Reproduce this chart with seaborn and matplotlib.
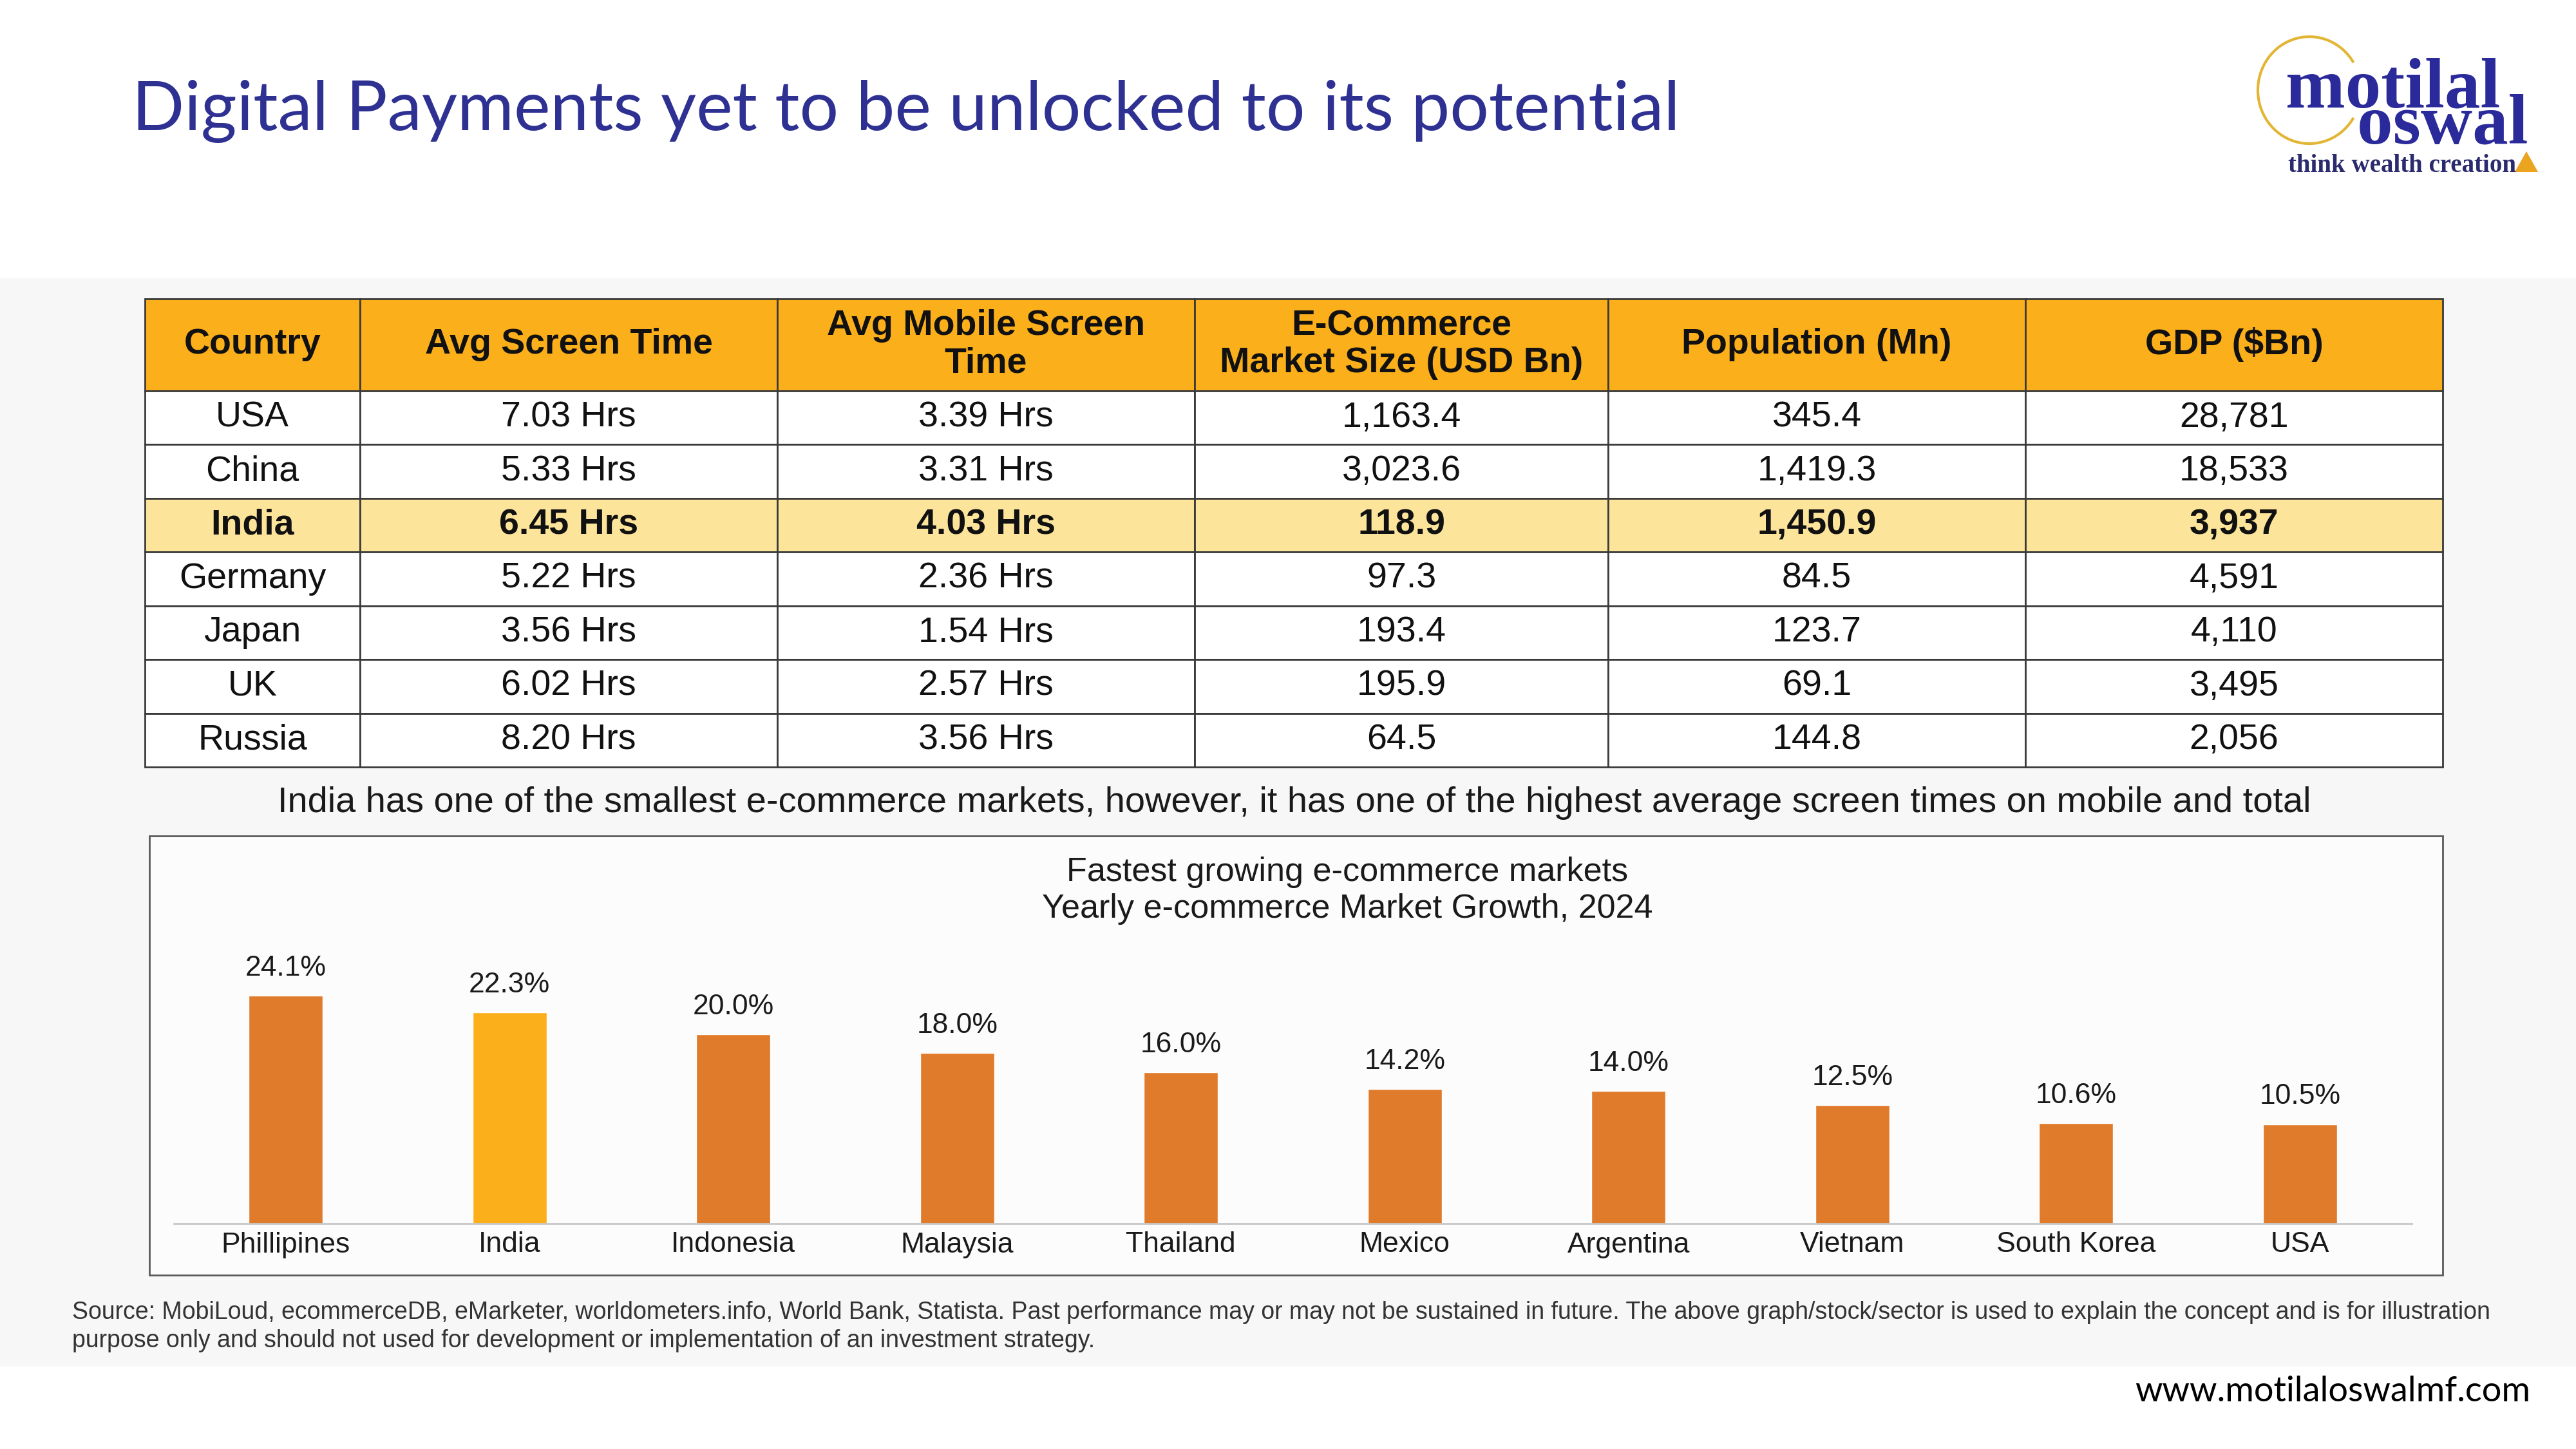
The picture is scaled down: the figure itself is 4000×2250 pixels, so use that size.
import numpy as np
import matplotlib
matplotlib.use("Agg")
import matplotlib.pyplot as plt
import seaborn as sns
from matplotlib.patches import Rectangle, Arc, Polygon

# ---- data ----
headers = ["Country", "Avg Screen Time", "Avg Mobile Screen\nTime",
           "E-Commerce\nMarket Size (USD Bn)", "Population (Mn)", "GDP ($Bn)"]
countries = ["USA", "China", "India", "Germany", "Japan", "UK", "Russia"]
screen_time = ["7.03 Hrs", "5.33 Hrs", "6.45 Hrs", "5.22 Hrs", "3.56 Hrs", "6.02 Hrs", "8.20 Hrs"]
mobile_time = ["3.39 Hrs", "3.31 Hrs", "4.03 Hrs", "2.36 Hrs", "1.54 Hrs", "2.57 Hrs", "3.56 Hrs"]
ecom_size = ["1,163.4", "3,023.6", "118.9", "97.3", "193.4", "195.9", "64.5"]
population = ["345.4", "1,419.3", "1,450.9", "84.5", "123.7", "69.1", "144.8"]
gdp = ["28,781", "18,533", "3,937", "4,591", "4,110", "3,495", "2,056"]

markets = ["Phillipines", "India", "Indonesia", "Malaysia", "Thailand",
           "Mexico", "Argentina", "Vietnam", "South Korea", "USA"]
growth = [24.1, 22.3, 20.0, 18.0, 16.0, 14.2, 14.0, 12.5, 10.6, 10.5]

title = "Digital Payments yet to be unlocked to its potential"
caption = ("India has one of the smallest e-commerce markets, however, it has one of "
           "the highest average screen times on mobile and total")
chart_title = "Fastest growing e-commerce markets\nYearly e-commerce Market Growth, 2024"
source = ("Source: MobiLoud, ecommerceDB, eMarketer, worldometers.info, World Bank, Statista. "
          "Past performance may or may not be sustained in future. The above graph/stock/sector "
          "is used to explain the concept and is for illustration\npurpose only and should not "
          "used for development or implementation of an investment strategy.")
website = "www.motilaloswalmf.com"

ORANGE = "#E07B2B"
GOLD = "#FBAF1A"
PALE = "#FDE49B"
NAVY = "#2E3192"

sns.set_theme(style="white")
plt.rcParams["font.family"] = ["Liberation Sans", "DejaVu Sans"]

W, H = 4000, 2250
fig = plt.figure(figsize=(40, 22.5), dpi=100)
fig.patch.set_facecolor("white")


def rect(x0, y0, x1, y1):
    # pixel box (top-left origin) -> figure fraction
    return [x0 / W, 1 - y1 / H, (x1 - x0) / W, (y1 - y0) / H]


# background canvas in pixel coords
bg = fig.add_axes([0, 0, 1, 1], zorder=0)
bg.set_xlim(0, W)
bg.set_ylim(H, 0)
bg.axis("off")
bg.add_patch(Rectangle((0, 432), W, 1690, facecolor="#F7F7F7", edgecolor="none"))
bg.add_patch(Rectangle((232, 1298), 3561, 682, facecolor="#FCFCFC",
                       edgecolor="#5A5A5A", linewidth=2))

bg.text(205, 202, title, family=["Lato", "DejaVu Sans"], fontsize=77,
        color=NAVY, ha="left", va="baseline")
bg.text(2010, 1247, caption, fontsize=40.3, color="#1A1A1A", ha="center", va="center")
bg.text(2092, 1383, chart_title, fontsize=37.5, color="#1A1A1A", ha="center",
        va="center", linespacing=1.2)
bg.text(112, 2060, source, fontsize=27, color="#333333", ha="left", va="center",
        linespacing=1.25)
bg.text(3929, 2160, website, family=["Lato", "DejaVu Sans"], fontsize=39,
        color="black", ha="right", va="center")

# logo
bg.add_patch(Arc((3586, 140), 160, 166, theta1=32, theta2=328, color="#E2B634", lw=3))
bg.text(3549, 223, "motilal\n    oswal", family=["Liberation Serif"], fontweight="bold",
        fontsize=80, color="#2B2A9A", ha="left", va="baseline", linespacing=0.44,
        multialignment="left")
bg.text(3553, 267, "think wealth creation", family=["Liberation Serif"],
        fontweight="bold", fontsize=28, color="#2A2A6E", ha="left", va="baseline")
bg.add_patch(Polygon([[3905, 267], [3941, 267], [3923, 235]], closed=True,
                     facecolor="#EAA420", edgecolor="none"))

# ---- table ----
tax = fig.add_axes(rect(225, 464, 3793, 1191), zorder=2)
tax.axis("off")
rows = list(zip(countries, screen_time, mobile_time, ecom_size, population, gdp))
col_w = np.array([334, 648, 648, 642, 648, 648]) / 3568
tbl = tax.table(cellText=rows, colLabels=headers, colWidths=col_w,
                cellLoc="center", bbox=[0, 0, 1, 1])
tbl.auto_set_font_size(False)
tbl.set_fontsize(40)
for (r, c), cell in tbl.get_celld().items():
    cell.set_edgecolor("#3A3A3A")
    cell.set_linewidth(2)
    cell.set_height(143 if r == 0 else 83.5)
    txt = cell.get_text()
    if r == 0:
        cell.set_facecolor(GOLD)
        txt.set_fontweight("bold")
        txt.set_linespacing(1.15)
    elif countries[r - 1] == "India":
        cell.set_facecolor(PALE)
        txt.set_fontweight("bold")
    else:
        cell.set_facecolor("white")
    txt.set_color("#111111")

# ---- bar chart ----
ax = fig.add_axes(rect(270, 1459, 3745, 1900), zorder=2)
ax.patch.set_alpha(0)
palette = {m: (GOLD if m == "India" else ORANGE) for m in markets}
sns.barplot(x=markets, y=growth, hue=markets, palette=palette, legend=False,
            width=0.33, saturation=1, ax=ax)
for cont in ax.containers:
    ax.bar_label(cont, fmt="%.1f%%", padding=16, fontsize=32, color="#1A1A1A")
ax.set_ylim(0, 30)
ax.set_xlim(-0.5, len(markets) - 0.5)
ax.set_yticks([])
ax.set_xlabel("")
ax.set_ylabel("")
for s in ["top", "left", "right"]:
    ax.spines[s].set_visible(False)
ax.spines["bottom"].set_color("#C8C8C8")
ax.spines["bottom"].set_linewidth(2)
ax.tick_params(axis="x", length=0, pad=9, labelsize=32, labelcolor="#1A1A1A")

fig.savefig("out.png", dpi=100, facecolor="white")
